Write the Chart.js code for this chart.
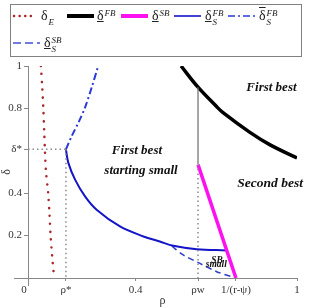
<!DOCTYPE html>
<html>
<head>
<meta charset="utf-8">
<script src="https://cdn.jsdelivr.net/npm/chart.js@4.4.1/dist/chart.umd.min.js"></script>
<style>
  body { margin: 0; background: #fff; }
  #wrap { position: relative; width: 309px; height: 308px; }
  #legend { position: absolute; left: 10px; top: 4px; width: 290px; height: 51px;
            border: 1px solid #808080; font-family: "Liberation Serif", serif; color: #222; }
  #legend svg { position: absolute; }
  #legend .lab { position: absolute; font-size: 14px; line-height: 14px; white-space: nowrap; }
  #legend .u { text-decoration: underline; }
  #legend .o { text-decoration: overline; }
  #legend .sc { display: inline-block; vertical-align: top; font-size: 9px; line-height: 9px; font-style: italic; margin-left: 1px; }
  #legend .sc i { display: block; height: 9px; }
</style>
</head>
<body>
<div id="wrap">
  <canvas id="grafico" width="309" height="308"></canvas>
  <div id="legend">
    <svg style="left:1px;top:7px" width="22" height="8"><line x1="2" y1="4" x2="20" y2="4" stroke="#a8282c" stroke-width="2.5" stroke-linecap="round" stroke-dasharray="0.1 5.5"/></svg>
    <span class="lab" style="left:30px;top:4px">δ<span class="sc"><i>&nbsp;</i><i>E</i></span></span>

    <svg style="left:56px;top:7px" width="27" height="8"><line x1="0" y1="4" x2="27" y2="4" stroke="#000" stroke-width="4"/></svg>
    <span class="lab" style="left:86px;top:4px"><span class="u">δ</span><span class="sc"><i>FB</i><i>&nbsp;</i></span></span>

    <svg style="left:110px;top:7px" width="27" height="8"><line x1="0" y1="4" x2="27" y2="4" stroke="#ff10f0" stroke-width="4"/></svg>
    <span class="lab" style="left:141px;top:4px"><span class="u">δ</span><span class="sc"><i>SB</i><i>&nbsp;</i></span></span>

    <svg style="left:163px;top:7px" width="27" height="8"><line x1="0" y1="4" x2="27" y2="4" stroke="#1414c8" stroke-width="1.6"/></svg>
    <span class="lab" style="left:194px;top:4px"><span class="u">δ</span><span class="sc"><i>FB</i><i>S</i></span></span>

    <svg style="left:217px;top:7px" width="27" height="8"><line x1="0" y1="4" x2="27" y2="4" stroke="#2a3ad8" stroke-width="1.6" stroke-dasharray="7 3 2 3"/></svg>
    <span class="lab" style="left:248px;top:4px"><span class="o">δ</span><span class="sc"><i>FB</i><i>S</i></span></span>

    <svg style="left:2px;top:34px" width="27" height="8"><line x1="0" y1="4" x2="27" y2="4" stroke="#4050d8" stroke-width="1.6" stroke-dasharray="8 4"/></svg>
    <span class="lab" style="left:33px;top:31px"><span class="u">δ</span><span class="sc"><i>SB</i><i>S</i></span></span>
  </div>
</div>
<script>
// key points
const rhoStar = 0.141
const deltaStar = 0.607
const rhoW = 0.632
const rhoBar = 0.773   // 1/(r-psi)

// delta_E (red dotted)
const rhoE   = [0.048, 0.053, 0.057, 0.060, 0.063, 0.067, 0.075, 0.080, 0.084, 0.090, 0.095]
const deltaE = [1.0,   0.9,   0.8,   0.7,   0.6,   0.5,   0.4,   0.3,   0.2,   0.1,   0.03]

// first best threshold (black)
const rhoFB   = [0.569, 0.632, 0.700, 0.725, 0.825, 0.900, 1.000]
const deltaFB = [1.000, 0.900, 0.810, 0.780, 0.687, 0.628, 0.566]

// second best threshold (magenta)
const rhoSB   = [rhoW, rhoBar]
const deltaSB = [0.535, 0]

// lower bound, first best starting small (blue solid)
const rhoSFB   = [0.141, 0.150, 0.175, 0.212, 0.255, 0.342, 0.429, 0.490, 0.540, 0.627, 0.737]
const deltaSFB = [0.607, 0.543, 0.464, 0.385, 0.322, 0.243, 0.196, 0.172, 0.152, 0.136, 0.130]

// upper bound, first best starting small (blue dash-dot)
const rhoSFBup   = [0.141, 0.162, 0.190, 0.212, 0.237, 0.261]
const deltaSFBup = [0.607, 0.668, 0.740, 0.804, 0.900, 1.000]

// second best starting small (blue dashed)
const rhoSSB   = [0.535, 0.577, 0.639, 0.701, 0.773]
const deltaSSB = [0.150, 0.109, 0.069, 0.030, 0.000]

// axis ticks
const xTickVals = [0, rhoStar, 0.4, rhoW, rhoBar, 1]
const xTickLabels = ['0   ', 'ρ*', '0.4', 'ρw', '1/(r-ψ)', '1']
const yTickVals = [0.2, 0.4, deltaStar, 0.8, 1]
const yTickLabels = ['0.2', '0.4', 'δ*', '0.8', '1']

const pts = (xs, ys) => xs.map((x, i) => ({ x: x, y: ys[i] }))

const grafico = document.getElementById('grafico')

// region labels + the short axis overhangs
const regionText = {
    id: 'regionText',
    afterDatasetsDraw(chart) {
        const ctx = chart.ctx
        const sx = chart.scales.x, sy = chart.scales.y
        const a = chart.chartArea
        ctx.save()
        ctx.strokeStyle = '#888'
        ctx.lineWidth = 1
        ctx.beginPath()
        ctx.moveTo(a.left - 14, a.bottom + 0.5)
        ctx.lineTo(a.left, a.bottom + 0.5)
        ctx.moveTo(a.left + 0.5, a.bottom)
        ctx.lineTo(a.left + 0.5, a.bottom + 8)
        ctx.stroke()

        const put = (txt, r, d, size) => {
            ctx.font = 'italic bold ' + size + 'px "Liberation Serif"'
            ctx.fillText(txt, sx.getPixelForValue(r), sy.getPixelForValue(d))
        }
        ctx.fillStyle = '#111'
        ctx.textAlign = 'center'
        ctx.textBaseline = 'alphabetic'
        put('First best', 0.905, 0.882, 13)
        put('First best', 0.405, 0.584, 13)
        put('starting small', 0.42, 0.489, 13)
        put('Second best', 0.90, 0.428, 13.5)
        put('SB', 0.703, 0.073, 9.5)
        put('small', 0.70, 0.05, 9.5)
        ctx.restore()
    }
}

const tickFont = { family: 'Liberation Serif', size: 11 }

new Chart(grafico, {
    type: 'line',
    data: {
        datasets: [
            { label: 'guide d*', data: pts([0, rhoStar], [deltaStar, deltaStar]), borderColor: '#8a8a8a', borderWidth: 1.5, borderDash: [1.5, 3] },
            { label: 'guide r*', data: pts([rhoStar, rhoStar], [deltaStar, 0]), borderColor: '#8a8a8a', borderWidth: 1.5, borderDash: [1.5, 3] },
            { label: 'guide rw', data: pts([rhoW, rhoW], [deltaSB[0], 0]), borderColor: '#8a8a8a', borderWidth: 1.5, borderDash: [1.5, 3] },
            { label: 'rw line', data: pts([rhoW, rhoW], [0.9, deltaSB[0]]), borderColor: '#777', borderWidth: 1.3 },
            { label: 'δE', data: pts(rhoE, deltaE), borderColor: '#a8282c', borderWidth: 2.5, borderDash: [0.1, 7.8], borderCapStyle: 'round', tension: 0.3 },
            { label: 'δFB', data: pts(rhoFB, deltaFB), borderColor: '#000', borderWidth: 3.5, tension: 0.35 },
            { label: 'δSB', data: pts(rhoSB, deltaSB), borderColor: '#ff10f0', borderWidth: 3.5 },
            { label: 'δS FB', data: pts(rhoSFB, deltaSFB), borderColor: '#1414c8', borderWidth: 2, tension: 0.35 },
            { label: 'δS FB upper', data: pts(rhoSFBup, deltaSFBup), borderColor: '#2a3ad8', borderWidth: 2, borderDash: [7, 3, 2, 3], tension: 0.3 },
            { label: 'δS SB', data: pts(rhoSSB, deltaSSB), borderColor: '#3040c8', borderWidth: 1.6, borderDash: [6, 4], tension: 0.3 }
        ]
    },
    options: {
        responsive: false,
        animation: false,
        devicePixelRatio: 1,
        layout: { padding: { top: 66, right: 12, left: 0, bottom: 0 } },
        elements: { point: { radius: 0 }, line: { fill: false } },
        plugins: { legend: { display: false }, tooltip: { enabled: false } },
        scales: {
            x: {
                type: 'linear', min: 0, max: 1,
                afterBuildTicks: s => { s.ticks = xTickVals.map(v => ({ value: v })) },
                afterFit: s => { s.height = 30 },
                ticks: { autoSkip: false, maxRotation: 0, padding: 3, color: '#333', font: tickFont,
                         callback: (v, i) => xTickLabels[i] },
                grid: { drawOnChartArea: false, tickLength: 3, color: '#888' },
                border: { color: '#888' },
                title: { display: true, text: 'ρ', color: '#333', font: { family: 'Liberation Serif', size: 12 }, padding: 0 }
            },
            y: {
                type: 'linear', min: 0, max: 1,
                afterBuildTicks: s => { s.ticks = yTickVals.map(v => ({ value: v })) },
                afterFit: s => { s.width = 28 },
                ticks: { autoSkip: false, padding: 2, color: '#333', font: tickFont,
                         callback: (v, i) => yTickLabels[i] },
                grid: { drawOnChartArea: false, tickLength: 4, color: '#888' },
                border: { color: '#888' },
                title: { display: true, text: 'δ', color: '#333', font: { family: 'Liberation Serif', size: 12 }, padding: 0 }
            }
        }
    },
    plugins: [regionText]
})
</script>
</body>
</html>
